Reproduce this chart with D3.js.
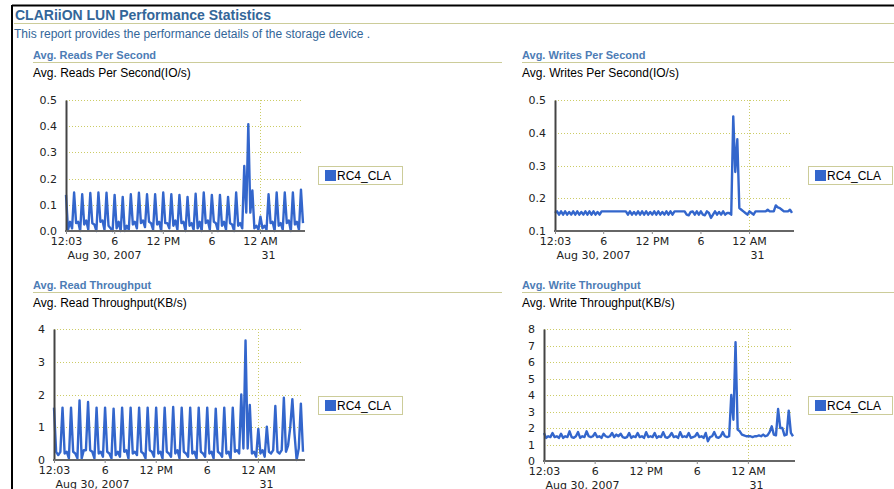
<!DOCTYPE html>
<html>
<head>
<meta charset="utf-8">
<script src="https://cdn.jsdelivr.net/npm/d3@7"></script>
<style>
  body { margin: 0; background: #fff; }
  svg text { font-family: "Liberation Sans", Arial, sans-serif; }
  .tick text { font-family: "DejaVu Sans", sans-serif; font-size: 11px; fill: #222; }
</style>
</head>
<body>
<script>
// report data, one value every 15 minutes from 12:03 on Aug 30, 2007
const seriesName = "RC4_CLA";
const startTime = new Date(2007, 7, 30, 0, 3);
const stepMinutes = 15;

const xTickTimes = [
  new Date(2007, 7, 30, 0, 3),
  new Date(2007, 7, 30, 6, 0),
  new Date(2007, 7, 30, 12, 0),
  new Date(2007, 7, 30, 18, 0),
  new Date(2007, 7, 31, 0, 0)
];
const xTickLabels = ["12:03", "6", "12 PM", "6", "12 AM"];
const xDateLabels = ["Aug 30, 2007", "", "", "", "31"];

const readsPerSecond = [
  0.138, 0.005, 0.035, 0.010,  0.147, 0.030, 0.035, 0.000,  0.140, 0.025, 0.040, 0.005,
  0.145, 0.030, 0.025, 0.000,  0.147, 0.035, 0.040, 0.005,  0.146, 0.020, 0.010, 0.000,
  0.138, 0.010, 0.035, 0.000,  0.130, 0.000, 0.020, 0.005,  0.140, 0.025, 0.035, 0.010,
  0.146, 0.030, 0.040, 0.015,  0.140, 0.035, 0.030, 0.005,  0.140, 0.025, 0.035, 0.000,
  0.147, 0.030, 0.030, 0.010,  0.140, 0.020, 0.040, 0.005,  0.138, 0.030, 0.035, 0.000,
  0.130, 0.020, 0.030, 0.005,  0.142, 0.010, 0.035, 0.000,  0.147, 0.030, 0.040, 0.005,
  0.138, 0.035, 0.030, 0.000,  0.138, 0.020, 0.035, 0.005,  0.130, 0.030, 0.025, 0.000,
  0.147, 0.020, 0.030, 0.010,  0.248, 0.070, 0.408, 0.070,  0.155, 0.010, 0.020, 0.005,
  0.055, 0.010, 0.020, 0.005,  0.140, 0.030, 0.035, 0.000,  0.147, 0.020, 0.030, 0.005,
  0.147, 0.030, 0.040, 0.000,  0.147, 0.025, 0.035, 0.005,  0.158, 0.030
];

const writesPerSecond = [
  0.155, 0.160, 0.150, 0.160,  0.150, 0.160, 0.150, 0.158,  0.150, 0.160, 0.150, 0.160,
  0.150, 0.158, 0.150, 0.160,  0.150, 0.160, 0.150, 0.160,  0.150, 0.158, 0.150, 0.160,
  0.160, 0.160, 0.160, 0.160,  0.160, 0.160, 0.160, 0.160,  0.160, 0.160, 0.160, 0.160,
  0.150, 0.160, 0.150, 0.158,  0.150, 0.160, 0.150, 0.160,  0.150, 0.160, 0.150, 0.158,
  0.150, 0.160, 0.150, 0.160,  0.150, 0.158, 0.150, 0.160,  0.150, 0.160, 0.150, 0.160,
  0.160, 0.160, 0.160, 0.160,  0.160, 0.150, 0.148, 0.158,  0.160, 0.150, 0.160, 0.150,
  0.160, 0.150, 0.148, 0.160,  0.155, 0.140, 0.150, 0.160,  0.150, 0.158, 0.150, 0.160,
  0.150, 0.155, 0.155, 0.150,  0.450, 0.280, 0.380, 0.170,  0.165, 0.160, 0.155, 0.150,
  0.160, 0.155, 0.150, 0.160,  0.160, 0.160, 0.160, 0.160,  0.160, 0.165, 0.160, 0.160,
  0.160, 0.178, 0.172, 0.170,  0.165, 0.160, 0.160, 0.160,  0.165, 0.155
];

const readThroughput = [
  1.60, 0.25, 0.15, 0.25,  1.60, 0.20, 0.25, 0.05,  1.60, 0.25, 0.20, 0.05,
  1.82, 0.05, 0.30, 0.30,  1.77, 0.30, 0.25, 0.05,  1.60, 0.20, 0.25, 0.10,
  1.60, 0.25, 0.20, 0.05,  1.57, 0.15, 0.25, 0.10,  1.60, 0.25, 0.30, 0.05,
  1.60, 0.20, 0.25, 0.15,  1.60, 0.25, 0.20, 0.05,  1.60, 0.30, 0.25, 0.10,
  1.60, 0.20, 0.25, 0.05,  1.60, 0.25, 0.20, 0.10,  1.62, 0.20, 0.30, 0.05,
  1.60, 0.25, 0.20, 0.10,  1.60, 0.20, 0.25, 0.05,  1.60, 0.25, 0.20, 0.10,
  1.60, 0.20, 0.25, 0.05,  1.57, 0.25, 0.20, 0.10,  1.60, 0.20, 0.25, 0.05,
  1.60, 0.25, 0.30, 0.20,  2.00, 0.35, 3.65, 0.35,  1.68, 0.20, 0.25, 0.10,
  0.95, 0.20, 0.30, 0.10,  1.02, 0.25, 0.20, 0.30,  1.65, 0.25, 0.20, 0.30,
  1.90, 0.25, 0.45, 1.00,  1.86, 0.80, 0.00, 0.35,  1.72, 0.25
];

const writeThroughput = [
  1.70, 1.40, 1.50, 1.45,  1.70, 1.45, 1.50, 1.40,  1.65, 1.40, 1.50, 1.45,
  1.80, 1.45, 1.40, 1.50,  1.75, 1.40, 1.50, 1.45,  1.80, 1.50, 1.45, 1.50,
  1.70, 1.45, 1.50, 1.40,  1.65, 1.50, 1.45, 1.50,  1.70, 1.45, 1.60, 1.50,
  1.65, 1.45, 1.40, 1.45,  1.70, 1.40, 1.50, 1.45,  1.70, 1.45, 1.50, 1.40,
  1.75, 1.45, 1.50, 1.45,  1.70, 1.40, 1.50, 1.45,  1.75, 1.45, 1.40, 1.50,
  1.70, 1.45, 1.50, 1.40,  1.75, 1.45, 1.50, 1.45,  1.70, 1.40, 1.45, 1.50,
  1.70, 1.45, 1.50, 1.40,  1.70, 1.20, 1.45, 1.50,  1.75, 1.45, 1.40, 1.50,
  1.75, 1.50, 1.45, 1.50,  4.00, 2.50, 7.20, 1.90,  1.80, 1.60, 1.55, 1.50,
  1.50, 1.50, 1.45, 1.50,  1.50, 1.55, 1.50, 1.60,  1.50, 1.55, 1.75, 2.10,
  1.60, 1.55, 3.15, 2.00,  2.00, 1.55, 1.60, 3.05,  1.70, 1.50
];

const readsTicks = [0, 0.1, 0.2, 0.3, 0.4, 0.5];
const writesTicks = [0.1, 0.2, 0.3, 0.4, 0.5];
const readKbTicks = [0, 1, 2, 3, 4];
const writeKbTicks = [0, 1, 2, 3, 4, 5, 6, 7, 8];

const blue = "#3366cc";
const rule = "#cccc99";
const grid = "#cccc66";

const svg = d3.select("body").append("svg")
  .attr("width", 894)
  .attr("height", 489);

drawPageHeader();

drawChart({
  section: "Avg. Reads Per Second", caption: "Avg. Reads Per Second(IO/s)",
  values: readsPerSecond, ticks: readsTicks, fmt: d3.format(".1f"),
  left: 33, ruleEnd: 502, headY: 55,
  plot: {x0: 66, x1: 303, y0: 100, y1: 231}, legend: {x: 318, y: 166}
});
drawChart({
  section: "Avg. Writes Per Second", caption: "Avg. Writes Per Second(IO/s)",
  values: writesPerSecond, ticks: writesTicks, fmt: d3.format(".1f"),
  left: 522, ruleEnd: 894, headY: 55,
  plot: {x0: 555, x1: 792, y0: 100, y1: 231}, legend: {x: 808, y: 166}
});
drawChart({
  section: "Avg. Read Throughput", caption: "Avg. Read Throughput(KB/s)",
  values: readThroughput, ticks: readKbTicks, fmt: d3.format("d"),
  left: 33, ruleEnd: 502, headY: 285,
  plot: {x0: 54, x1: 303, y0: 329, y1: 460}, legend: {x: 318, y: 396}
});
drawChart({
  section: "Avg. Write Throughput", caption: "Avg. Write Throughput(KB/s)",
  values: writeThroughput, ticks: writeKbTicks, fmt: d3.format("d"),
  left: 522, ruleEnd: 894, headY: 285,
  plot: {x0: 544, x1: 793, y0: 329, y1: 461}, legend: {x: 808, y: 396}
});

function drawPageHeader() {
  // black frame on top and left
  svg.append("line").attr("x1", 12).attr("x2", 894).attr("y1", 5.5).attr("y2", 5.5)
    .attr("stroke", "#000").attr("stroke-width", 2);
  svg.append("line").attr("x1", 12).attr("x2", 12).attr("y1", 5).attr("y2", 489)
    .attr("stroke", "#000").attr("stroke-width", 2);

  svg.append("text").attr("x", 15).attr("y", 19.5)
    .style("font-size", "14px").style("font-weight", "bold")
    .style("fill", "#336699")
    .text("CLARiiON LUN Performance Statistics");
  svg.append("line").attr("x1", 14).attr("x2", 894).attr("y1", 23.5).attr("y2", 23.5)
    .attr("stroke", rule);
  svg.append("text").attr("x", 14).attr("y", 38)
    .style("font-size", "12px").style("fill", "#336699")
    .text("This report provides the performance details of the storage device .");
}

function drawChart(c) {
  const p = c.plot;
  const g = svg.append("g");

  g.append("text").attr("x", c.left).attr("y", c.headY + 4)
    .style("font-size", "11px").style("font-weight", "bold")
    .style("fill", "#4d7cb5")
    .text(c.section);
  g.append("line").attr("x1", c.left).attr("x2", c.ruleEnd)
    .attr("y1", c.headY + 7.5).attr("y2", c.headY + 7.5)
    .attr("stroke", rule);
  g.append("text").attr("x", c.left).attr("y", c.headY + 21.5)
    .style("font-size", "12px").style("fill", "#000")
    .text(c.caption);

  const times = c.values.map((v, i) => new Date(startTime.getTime() + i * stepMinutes * 60000));

  const x = d3.scaleTime()
    .domain([times[0], times[times.length - 1]])
    .range([p.x0, p.x1]);
  const y = d3.scaleLinear()
    .domain(d3.extent(c.ticks))
    .range([p.y1, p.y0]);

  // dotted grid
  g.append("g").selectAll("line")
    .data(c.ticks.slice(1))
    .enter().append("line")
    .attr("x1", p.x0).attr("x2", p.x1)
    .attr("y1", d => Math.round(y(d)) + 0.5).attr("y2", d => Math.round(y(d)) + 0.5)
    .attr("stroke", grid).attr("stroke-dasharray", "1,2");
  g.append("line")
    .attr("x1", Math.round(x(xTickTimes[4])) + 0.5).attr("x2", Math.round(x(xTickTimes[4])) + 0.5)
    .attr("y1", p.y0).attr("y2", p.y1)
    .attr("stroke", grid).attr("stroke-dasharray", "1,2");

  const line = d3.line()
    .x((d, i) => x(times[i]))
    .y(d => y(d));
  g.append("path")
    .datum(c.values)
    .attr("d", line)
    .attr("fill", "none")
    .attr("stroke", blue)
    .attr("stroke-width", 2.4)
    .attr("stroke-linejoin", "round");

  // axes
  const yAxis = g.append("g")
    .attr("transform", `translate(${p.x0},0)`)
    .call(d3.axisLeft(y).tickValues(c.ticks).tickFormat(c.fmt).tickSize(0).tickPadding(9));
  yAxis.select(".domain").attr("stroke", "#444").attr("stroke-width", 2);

  const xAxis = g.append("g")
    .attr("transform", `translate(0,${p.y1})`)
    .call(d3.axisBottom(x).tickValues(xTickTimes)
      .tickFormat((d, i) => xTickLabels[i]).tickSize(3).tickSizeOuter(0).tickPadding(3));
  xAxis.select(".domain").attr("stroke", "#666").attr("stroke-width", 2)
    .attr("d", `M${p.x0 - 1},0H${p.x1 + 2}`);
  xAxis.selectAll(".tick line").attr("stroke", "#888");
  xAxis.selectAll(".tick")
    .append("text")
    .attr("x", 1).attr("y", 28)
    .attr("text-anchor", "start")
    .text((d, i) => xDateLabels[i]);

  // legend
  const lg = g.append("g").attr("transform", `translate(${c.legend.x},${c.legend.y})`);
  lg.append("rect").attr("x", 0.5).attr("y", 0.5).attr("width", 84).attr("height", 18)
    .attr("fill", "#fff").attr("stroke", rule);
  lg.append("rect").attr("x", 7).attr("y", 4).attr("width", 11).attr("height", 11)
    .attr("fill", blue);
  lg.append("text").attr("x", 19).attr("y", 14)
    .style("font-size", "12px").style("fill", "#000")
    .text(seriesName);
}
</script>
</body>
</html>
